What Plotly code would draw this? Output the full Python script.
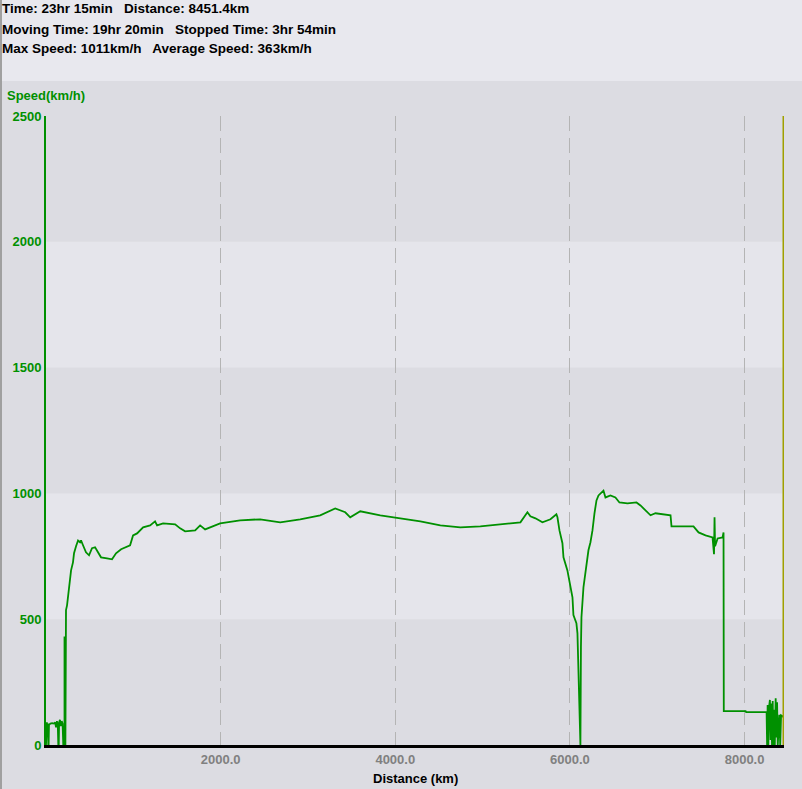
import plotly.graph_objects as go

# ---- data ----
distance_km = [
    0, 3, 10, 18, 22, 26, 30, 34, 50, 70, 90, 105, 115, 125, 135, 141, 146, 150, 160, 170, 180, 190, 198,
    212, 212, 222, 222, 228,
    229, 241, 252, 275, 287, 309, 321, 344, 367, 390, 401, 424, 458, 493, 527, 562, 596, 630, 699, 756,
    802, 860, 963, 997, 1043, 1112, 1192, 1249, 1272, 1341, 1479, 1536, 1593, 1708, 1765, 1822, 1994,
    2223, 2453, 2682, 2911, 3140, 3312, 3427, 3484, 3599, 3828, 4057, 4287, 4516, 4745, 4974, 5203,
    5433, 5513, 5547, 5605, 5685, 5777, 5845, 5857, 5880, 5914, 5926, 5971, 5994, 6017, 6029, 6040,
    6074, 6086, 6097, 6109, 6120, 6126, 6132, 6155, 6166, 6178, 6201, 6212, 6235, 6258, 6281, 6304,
    6327, 6384, 6407, 6464, 6521, 6567, 6659, 6762, 6808, 6865, 6923, 6980, 7072, 7152, 7163, 7415,
    7473, 7553, 7633, 7650, 7656, 7662, 7691, 7748, 7759, 7762, 8012, 8018, 8252,
    8258, 8264, 8272, 8280, 8290, 8298, 8306, 8314, 8322, 8330, 8338, 8346, 8356, 8364, 8372, 8380,
    8390, 8398, 8408, 8418, 8434, 8443,
]
speed_kmh = [
    0, 70, 90, 55, 85, 0, 0, 80, 85, 87, 85, 90, 70, 95, 80, 0, 0, 90, 100, 75, 95, 85, 0,
    0, 428, 428, 0, 0,
    536, 555, 587, 655, 694, 726, 762, 790, 813, 806, 813, 794, 766, 754, 782, 786, 766, 746, 742, 738,
    762, 778, 794, 833, 841, 865, 873, 889, 873, 881, 877, 861, 849, 853, 873, 857, 881,
    893, 897, 885, 897, 913, 940, 925, 905, 929, 913, 901, 889, 873, 865, 869, 877,
    885, 925, 909, 901, 885, 897, 917, 905, 853, 802, 746, 694, 655, 615, 587, 516,
    484, 444, 310, 230, 0, 389, 508, 627, 655, 694, 734, 774, 806, 853, 921, 972,
    992, 1011, 984, 992, 984, 964, 960, 964, 952, 933, 913, 921, 917, 913, 869, 869,
    845, 833, 825, 758, 905, 790, 821, 825, 845, 135, 135, 131, 131,
    0, 159, 0, 150, 179, 20, 165, 0, 175, 0, 140, 0, 186, 30, 170, 0,
    115, 120, 0, 118, 115, 110,
]

x_tick_vals = [2000, 4000, 6000, 8000]
x_tick_text = ["2000.0", "4000.0", "6000.0", "8000.0"]
y_tick_vals = [0, 500, 1000, 1500, 2000, 2500]
y_tick_text = ["0", "500", "1000", "1500", "2000", "2500"]
light_bands = [(500, 1000), (1500, 2000)]
total_distance = 8451.4
x_title = "Distance (km)"
y_title = "Speed(km/h)"

header_lines = [
    "Time: 23hr 15min\u00a0\u00a0 Distance: 8451.4km",
    "Moving Time: 19hr 20min\u00a0\u00a0 Stopped Time: 3hr 54min",
    "Max Speed: 1011km/h\u00a0\u00a0 Average Speed: 363km/h",
]

# ---- layout geometry ----
W, H = 802, 789
ML, MR, MT, MB = 46, 18, 116, 44
PW = W - ML - MR
PH = H - MT - MB


def px_x(p):
    return (p - ML) / PW


def px_y(p):
    return 1 + (MT - p) / PH


GREEN = "#009000"
FONT = "Liberation Sans"

fig = go.Figure()
fig.add_trace(go.Scatter(
    x=distance_km, y=speed_kmh, mode="lines",
    line=dict(color=GREEN, width=1.8), hoverinfo="skip", showlegend=False,
))

shapes = []
# header background
shapes.append(dict(type="rect", xref="paper", yref="paper",
                   x0=px_x(-2), x1=px_x(W + 2), y0=px_y(81), y1=px_y(-2),
                   fillcolor="#e8e8ee", line=dict(width=0), layer="below"))
# bands
for lo, hi in light_bands:
    shapes.append(dict(type="rect", xref="paper", yref="y", x0=0, x1=1, y0=lo, y1=hi,
                       fillcolor="#e5e5eb", line=dict(width=0), layer="below"))
# left border
shapes.append(dict(type="line", xref="paper", yref="paper",
                   x0=px_x(1), x1=px_x(1), y0=px_y(H + 2), y1=px_y(-2),
                   line=dict(color="#a0a0a0", width=2)))
# end marker
shapes.append(dict(type="line", xref="x", yref="y", x0=total_distance, x1=total_distance,
                   y0=0, y1=2500, line=dict(color="#a0a000", width=3)))

annotations = []
for t, yp in zip(header_lines, [9, 29, 48]):
    annotations.append(dict(text=t, xref="paper", yref="paper", x=px_x(1), y=px_y(yp),
                            xanchor="left", yanchor="middle", showarrow=False, borderpad=0,
                            font=dict(family=FONT, size=13.5, color="#000000", weight="bold")))
annotations.append(dict(text=y_title, xref="paper", yref="paper", x=px_x(6), y=px_y(95),
                        xanchor="left", yanchor="middle", showarrow=False, borderpad=0,
                        font=dict(family=FONT, size=13, color=GREEN, weight="bold")))
annotations.append(dict(text=x_title, xref="paper", yref="paper", x=0.5, y=px_y(778),
                        xanchor="center", yanchor="middle", showarrow=False, borderpad=0,
                        font=dict(family=FONT, size=13, color="#000000", weight="bold")))

fig.update_layout(
    width=W, height=H, autosize=False,
    margin=dict(l=ML, r=MR, t=MT, b=MB, pad=0, autoexpand=False),
    paper_bgcolor="#dcdce2", plot_bgcolor="#dcdce2",
    shapes=shapes, annotations=annotations,
    showlegend=False,
    xaxis=dict(
        range=[0, total_distance], tickvals=x_tick_vals, ticktext=x_tick_text,
        tickfont=dict(family=FONT, size=13, color="#808080", weight="bold"),
        showgrid=True, gridcolor="#b4b4b4", gridwidth=1, griddash="15px,7px",
        showline=True, linecolor="#000000", linewidth=3, zeroline=False, ticks="",
        automargin=False, fixedrange=True,
    ),
    yaxis=dict(
        range=[0, 2500], tickvals=y_tick_vals, ticktext=y_tick_text,
        tickfont=dict(family=FONT, size=13, color=GREEN, weight="bold"),
        showgrid=False, showline=True, linecolor=GREEN, linewidth=2, zeroline=False, ticks="",
        automargin=False, fixedrange=True,
    ),
)

fig.write_html("out.html", config={"displayModeBar": False, "staticPlot": True},
               post_script="document.body.style.margin='0px';document.body.style.overflow='hidden';")
